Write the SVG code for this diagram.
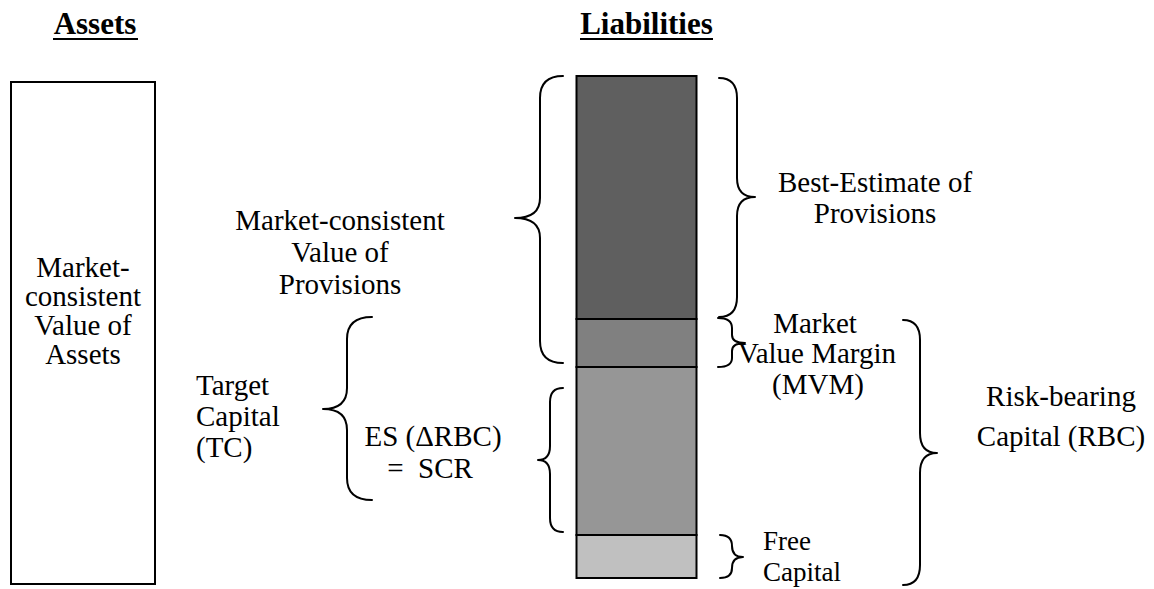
<svg xmlns="http://www.w3.org/2000/svg" width="1154" height="589" viewBox="0 0 1154 589">
  <style>
    .t { font-family: 'Liberation Serif', 'DejaVu Serif', serif; font-size: 29px; fill: #000; }
    .s { font-size: 27px; }
    .c { text-anchor: middle; }
    .h { font-family: 'Liberation Serif', 'DejaVu Serif', serif; font-size: 31px; font-weight: bold; text-anchor: middle; fill: #000; }
    .ul { stroke: #000; stroke-width: 2; }
    .box { stroke: #000; stroke-width: 2; }
    .brace { fill: none; stroke: #000; stroke-width: 2; stroke-linecap: round; stroke-linejoin: round; }
  </style>
  <rect width="1154" height="589" fill="#fff"/>

  <g id="title-assets">
    <text class="h" x="95" y="34">Assets</text>
    <line class="ul" x1="53" y1="39" x2="138" y2="39"/>
  </g>
  <g id="title-liabilities">
    <text class="h" x="646.5" y="34">Liabilities</text>
    <line class="ul" x1="580" y1="39" x2="713" y2="39"/>
  </g>

  <g id="assets-box">
    <rect class="box" x="11" y="82" width="144" height="502" fill="#fff"/>
    <text class="t c" x="83" y="277">Market-</text>
    <text class="t c" x="83" y="306">consistent</text>
    <text class="t c" x="83" y="335">Value of</text>
    <text class="t c" x="83" y="364">Assets</text>
  </g>

  <g id="liabilities-column">
    <rect id="seg-best-estimate" class="box" x="576.5" y="76" width="120" height="243" fill="#5f5f5f"/>
    <rect id="seg-mvm" class="box" x="576.5" y="319" width="120" height="48" fill="#808080"/>
    <rect id="seg-scr" class="box" x="576.5" y="367" width="120" height="168" fill="#969696"/>
    <rect id="seg-free" class="box" x="576.5" y="535" width="120" height="43" fill="#c0c0c0"/>
  </g>

  <g id="connectors">
    <path class="brace" d="M563,76 Q540,76 540,98 L540,198 Q540,218 515,218 Q540,218 540,238 L540,341 Q540,363 563,363"/>
    <path class="brace" d="M719,78 Q737,78 737,98 L737,178 Q737,197 755,197 Q737,197 737,216 L737,297 Q737,317 719,317"/>
    <path class="brace" d="M718,318 Q732,318 732,328 L732,335 Q732,343 745,343 Q732,343 732,351 L732,358 Q732,367 718,367"/>
    <path class="brace" d="M720,535 Q732,535 732,546 Q732,557 743,557 Q732,557 732,568 Q732,578 720,578"/>
    <path class="brace" d="M903,320 Q920,320 920,340 L920,433 Q920,453 937,453 Q920,453 920,473 L920,565 Q920,585 903,585"/>
    <path class="brace" d="M372,317 Q347,317 347,339 L347,388 Q347,409 323,409 Q347,409 347,430 L347,478 Q347,500 372,500"/>
    <path class="brace" d="M563,388 Q550,388 550,402 L550,446 Q550,460 538,460 Q550,460 550,474 L550,518 Q550,532 563,532"/>
  </g>

  <g id="label-mcvp">
    <text class="t c" x="340" y="230">Market-consistent</text>
    <text class="t c" x="340" y="262">Value of</text>
    <text class="t c" x="340" y="294">Provisions</text>
  </g>
  <g id="label-best-estimate">
    <text class="t c" x="875" y="192">Best-Estimate of</text>
    <text class="t c" x="875" y="223">Provisions</text>
  </g>
  <g id="label-mvm">
    <text class="t c" x="815" y="333">Market</text>
    <text class="t c" x="817" y="363">Value Margin</text>
    <text class="t c" x="818" y="394">(MVM)</text>
  </g>
  <g id="label-rbc">
    <text class="t c" x="1061" y="406">Risk-bearing</text>
    <text class="t c" x="1061" y="446">Capital (RBC)</text>
  </g>
  <g id="label-tc">
    <text class="t" x="196" y="395">Target</text>
    <text class="t" x="196" y="426">Capital</text>
    <text class="t" x="196" y="457">(TC)</text>
  </g>
  <g id="label-es">
    <text class="t c" x="433" y="446">ES (ΔRBC)</text>
    <text class="t c" x="430" y="478" xml:space="preserve" style="white-space:pre">=  SCR</text>
  </g>
  <g id="label-free">
    <text class="t s" x="763" y="550">Free</text>
    <text class="t s" x="763" y="581">Capital</text>
  </g>
</svg>
